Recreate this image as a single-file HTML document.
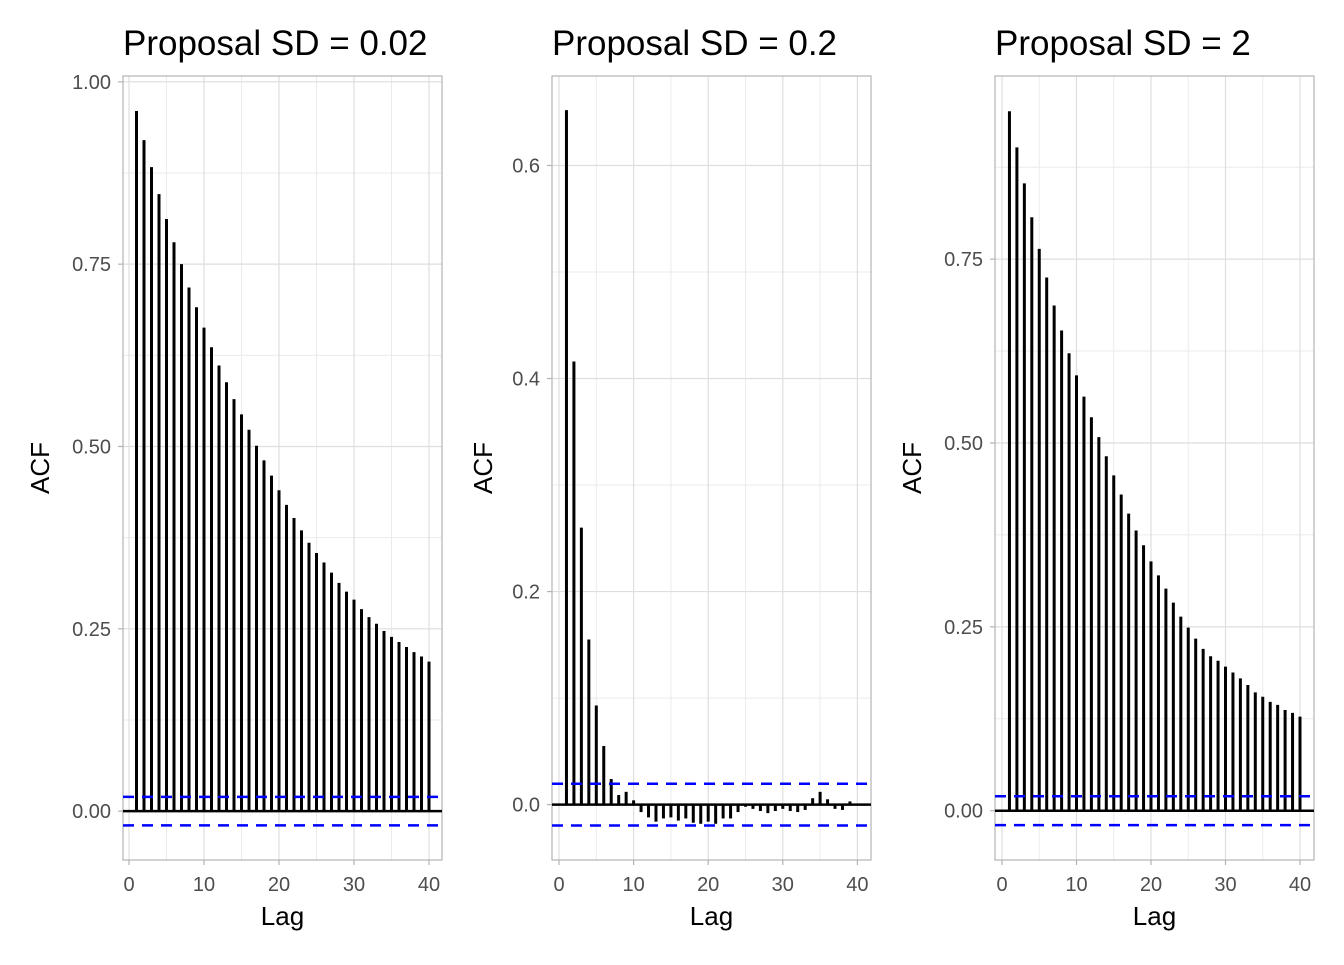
<!DOCTYPE html>
<html><head><meta charset="utf-8"><style>
body{margin:0;background:#fff;width:1344px;height:960px;overflow:hidden}
svg text{font-family:"Liberation Sans",sans-serif}
</style></head><body>
<svg id="chart" width="1344" height="960" xmlns="http://www.w3.org/2000/svg"></svg>
<script>
const lags = Array.from({length:40},(_,i)=>i+1);
const acfSd002 = [0.96,0.92,0.883,0.846,0.812,0.78,0.75,0.718,0.691,0.663,0.636,0.611,0.588,0.565,0.544,0.523,0.501,0.481,0.46,0.44,0.42,0.402,0.385,0.368,0.354,0.341,0.327,0.313,0.301,0.29,0.277,0.266,0.257,0.247,0.239,0.232,0.225,0.218,0.212,0.205];
const acfSd02 = [0.652,0.416,0.26,0.155,0.093,0.055,0.024,0.009,0.012,0.004,-0.007,-0.012,-0.016,-0.013,-0.012,-0.015,-0.013,-0.017,-0.018,-0.016,-0.018,-0.013,-0.013,-0.007,-0.002,-0.004,-0.006,-0.008,-0.006,-0.004,-0.006,-0.007,-0.005,0.006,0.012,0.005,-0.004,-0.005,0.003,0.0];
const acfSd2 = [0.951,0.902,0.853,0.807,0.764,0.725,0.687,0.653,0.622,0.592,0.563,0.535,0.508,0.482,0.456,0.43,0.404,0.381,0.361,0.339,0.32,0.302,0.283,0.264,0.249,0.234,0.22,0.21,0.204,0.196,0.188,0.18,0.171,0.161,0.155,0.148,0.144,0.137,0.133,0.128];
const titles = ["Proposal SD = 0.02","Proposal SD = 0.2","Proposal SD = 2"];
const yTicks1 = [0,0.25,0.5,0.75,1.0], yLabels1 = ["0.00","0.25","0.50","0.75","1.00"];
const yTicks2 = [0,0.2,0.4,0.6], yLabels2 = ["0.0","0.2","0.4","0.6"];
const yTicks3 = [0,0.25,0.5,0.75], yLabels3 = ["0.00","0.25","0.50","0.75"];
const xTicks = [0,10,20,30,40];
const ciBound = 0.0196;

const svg = document.getElementById('chart');
const NS = "http://www.w3.org/2000/svg";
function mk(tag, attrs, parent){const e=document.createElementNS(NS,tag);for(const k in attrs)e.setAttribute(k,attrs[k]);(parent||svg).appendChild(e);return e;}

const panels = [
 {x0:123,x1:442,xz:129,xs:7.5,yl:40,yMin:-0.067,yMax:1.008,vals:acfSd002,ticks:yTicks1,labels:yLabels1,minor:[0.125,0.375,0.625,0.875],title:titles[0],name:'panel-sd-002'},
 {x0:552,x1:871,xz:559,xs:7.46,yl:483,yMin:-0.052,yMax:0.684,vals:acfSd02,ticks:yTicks2,labels:yLabels2,minor:[0.1,0.3,0.5],title:titles[1],name:'panel-sd-02'},
 {x0:995,x1:1314,xz:1002,xs:7.45,yl:912,yMin:-0.067,yMax:0.999,vals:acfSd2,ticks:yTicks3,labels:yLabels3,minor:[0.125,0.375,0.625,0.875],title:titles[2],name:'panel-sd-2'}
];
const yTop=76, yBot=860;
panels.forEach(p=>{
  const g = mk('g',{});
  
  
  const xs = v => p.xz + v*p.xs;
  const ys = v => yBot - (v-p.yMin)/(p.yMax-p.yMin)*(yBot-yTop);
  p.minor.forEach(t=>mk('line',{x1:p.x0,x2:p.x1,y1:ys(t),y2:ys(t),stroke:'#ebebeb','stroke-width':1},g));
  [5,15,25,35].forEach(t=>mk('line',{x1:xs(t),x2:xs(t),y1:yTop,y2:yBot,stroke:'#ebebeb','stroke-width':1},g));
  p.ticks.forEach((t,i)=>{
    mk('line',{x1:p.x0,x2:p.x1,y1:ys(t),y2:ys(t),stroke:'#dedede','stroke-width':1.2},g);
    mk('line',{x1:p.x0-5,x2:p.x0,y1:ys(t),y2:ys(t),stroke:'#b3b3b3','stroke-width':1.2},g);
    const tx = mk('text',{x:p.x0-12,y:ys(t)+7,'text-anchor':'end','font-size':20,fill:'#4d4d4d'},g);
    tx.textContent = p.labels[i];
    
    
  });
  xTicks.forEach(t=>{
    mk('line',{x1:xs(t),x2:xs(t),y1:yTop,y2:yBot,stroke:'#dedede','stroke-width':1.2},g);
    mk('line',{x1:xs(t),x2:xs(t),y1:yBot,y2:yBot+5,stroke:'#b3b3b3','stroke-width':1.2},g);
    const tx = mk('text',{x:xs(t),y:yBot+31,'text-anchor':'middle','font-size':20,fill:'#4d4d4d'},g);
    tx.textContent = t;
    
    
  });
  mk('rect',{x:p.x0,y:yTop,width:p.x1-p.x0,height:yBot-yTop,fill:'none',stroke:'#b3b3b3','stroke-width':1.2},g);
  p.vals.forEach((v,i)=>{
    const b = mk('line',{x1:xs(lags[i]),x2:xs(lags[i]),y1:ys(0),y2:ys(v),stroke:'#000','stroke-width':3},g);
    
    
  });
  mk('line',{x1:p.x0,x2:p.x1,y1:ys(0),y2:ys(0),stroke:'#000','stroke-width':2.5},g);
  [ciBound,-ciBound].forEach(c=>{
    const l = mk('line',{x1:p.x0,x2:p.x1,y1:ys(c),y2:ys(c),stroke:'#0000ff','stroke-width':2.5,'stroke-dasharray':'11 8'},g);
    
    
  });
  const t = mk('text',{x:p.x0,y:55,'font-size':35,fill:'#000'},g);
  t.textContent = p.title;
  
  
  const xl = mk('text',{x:(p.x0+p.x1)/2,y:925,'text-anchor':'middle','font-size':26,fill:'#000'},g);
  xl.textContent = 'Lag';
  
  
  const yx = p.yl+9;
  const yl = mk('text',{x:yx,y:(yTop+yBot)/2,'text-anchor':'middle','font-size':26,fill:'#000',transform:`rotate(-90 ${yx} ${(yTop+yBot)/2})`},g);
  yl.textContent = 'ACF';
  
  
});
</script>
</body></html>
